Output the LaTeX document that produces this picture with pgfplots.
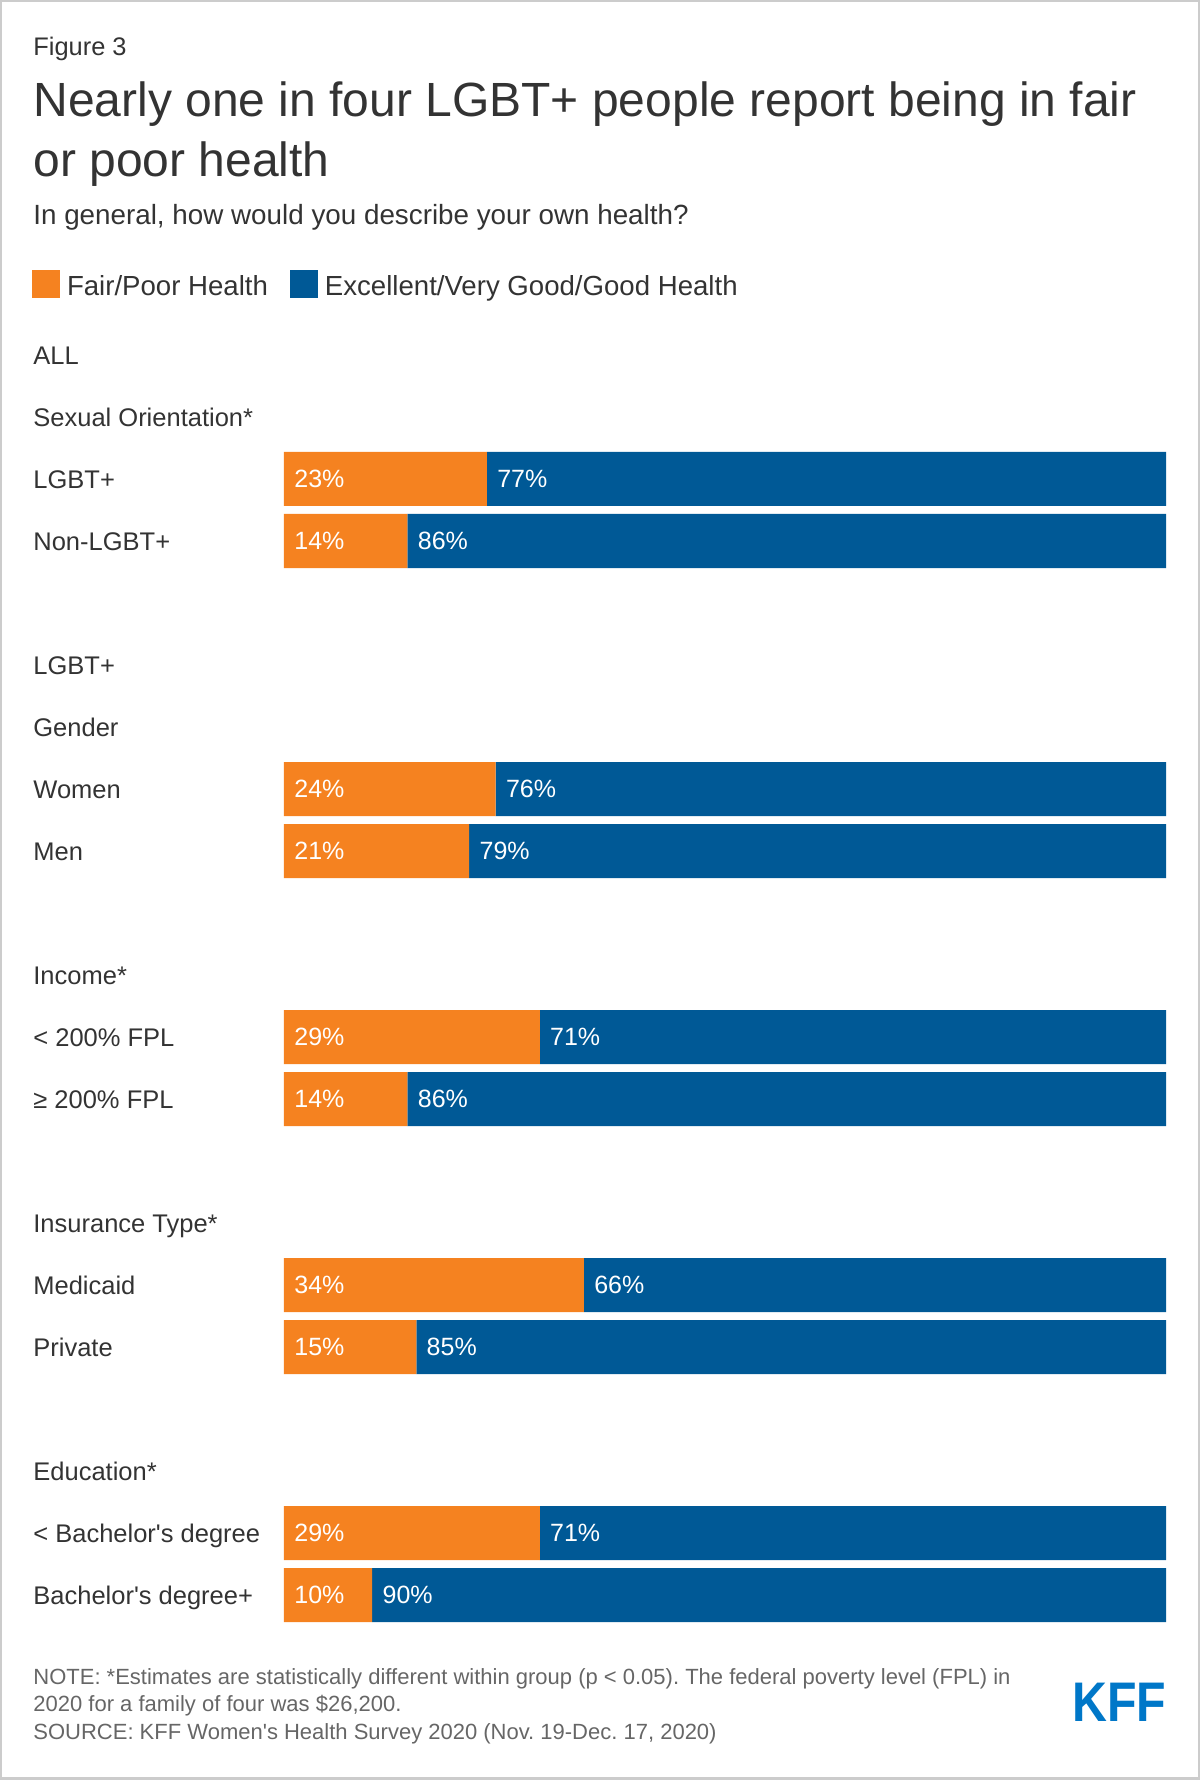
\documentclass[border=0pt]{standalone}
\usepackage{pgfplots}
\pgfplotsset{compat=1.18}
\usepackage{fontspec}
\setmainfont{Liberation Sans}
\definecolor{kfforange}{HTML}{F58220}
\definecolor{kffblue}{HTML}{005996}
\definecolor{kfflogo}{HTML}{0077C8}
\definecolor{txt}{HTML}{333333}
\definecolor{notec}{HTML}{666666}
\definecolor{framec}{HTML}{CCCCCC}
\newcommand\fs[2]{\fontsize{#1}{#2}\selectfont}
\frenchspacing
\begin{document}
\frenchspacing
\begin{tikzpicture}
\begin{axis}[
  at={(0pt,0pt)}, anchor=south west,
  scale only axis, width=441pt, height=890pt,
  xmin=0, xmax=100, ymin=0, ymax=1780, y dir=reverse,
  xbar stacked, bar width=27pt,
  axis line style={draw=none}, tick style={draw=none}, major tick length=0pt,
  xtick=\empty,
  ytick={355,417,479,541,665,727,789,851,975,1037,1099,1223,1285,1347,1471,1533,1595},
  yticklabels={ALL, Sexual Orientation*, LGBT+, Non-LGBT+, LGBT+, Gender, Women, Men, Income*, {< 200\% FPL}, {≥ 200\% FPL}, Insurance Type*, Medicaid, Private, Education*, {< Bachelor\textquotesingle s degree}, {Bachelor\textquotesingle s degree+}},
  yticklabel style={anchor=base west, inner sep=0pt, xshift=-125.5pt, yshift=-4.6pt, font=\fs{12.75}{15}, text=txt},
  clip=false,
  legend image code/.code={\fill[#1] (0pt,-1pt) rectangle (14pt,13pt);},
  legend style={at={(-0.28571,0.84831)}, anchor=north west, draw=none, fill=none, inner sep=0pt, outer sep=0pt, font=\fs{13.8}{16}, text=txt, legend columns=-1, cells={anchor=base west}, /tikz/every odd column/.append style={column sep=3.5pt}, /tikz/every even column/.append style={column sep=11pt}, nodes={inner sep=0pt}},
]
\addplot[fill=kfforange, draw=none] coordinates {(23,479) (14,541) (24,789) (21,851) (29,1037) (14,1099) (34,1285) (15,1347) (29,1533) (10,1595)};
\addlegendentry{Fair/Poor Health}
\addplot[fill=kffblue, draw=none] coordinates {(77,479) (86,541) (76,789) (79,851) (71,1037) (86,1099) (66,1285) (85,1347) (71,1533) (90,1595)};
\addlegendentry{Excellent/Very Good/Good Health}
\end{axis}
\begin{axis}[
  at={(0pt,0pt)}, anchor=south west,
  scale only axis, width=441pt, height=890pt,
  xmin=0, xmax=100, ymin=0, ymax=1780, y dir=reverse,
  hide axis, clip=false,
]
\addplot[draw=none, mark=none, nodes near coords, point meta=explicit symbolic,
  nodes near coords align={center},
  every node near coord/.style={anchor=west, font=\fs{12.5}{15}, text=white, inner sep=0pt, xshift=5pt}] coordinates {
(0,479) [23\%] (23,479) [77\%]
(0,541) [14\%] (14,541) [86\%]
(0,789) [24\%] (24,789) [76\%]
(0,851) [21\%] (21,851) [79\%]
(0,1037) [29\%] (29,1037) [71\%]
(0,1099) [14\%] (14,1099) [86\%]
(0,1285) [34\%] (34,1285) [66\%]
(0,1347) [15\%] (15,1347) [85\%]
(0,1533) [29\%] (29,1533) [71\%]
(0,1595) [10\%] (10,1595) [90\%]
};
\end{axis}
\pgfresetboundingbox
\begin{scope}[shift={(-142pt,890pt)}, x=0.5pt, y=-0.5pt]
\useasboundingbox (0,0) rectangle (1200,1780);
\draw[framec, line width=1.25pt] (1.25,1.25) rectangle (1198.75,1778.75);
\begin{scope}[every node/.style={anchor=base west, inner sep=0pt, text=txt}]
\node[font=\fs{12.7}{15}] at (33,56) {Figure 3};
\node[font=\fs{24}{30}] at (33,117) {Nearly one in four LGBT+ people report being in fair};
\node[font=\fs{24}{30}] at (33,177) {or poor health};
\node[font=\fs{13.9}{16}] at (33,225) {In general, how would you describe your own health?};
\node[font=\fs{11}{14}\frenchspacing, text=notec] at (33,1685) {NOTE: *Estimates are statistically different within group (p < 0.05). The federal poverty level (FPL) in};
\node[font=\fs{11}{14}\frenchspacing, text=notec] at (33,1712) {2020 for a family of four was \$26,200.};
\node[font=\fs{11}{14}\frenchspacing, text=notec] at (33,1740) {SOURCE: KFF Women\textquotesingle s Health Survey 2020 (Nov. 19-Dec. 17, 2020)};
\node[font=\bfseries\fs{27.9}{30}, text=kfflogo, xscale=0.866] at (1072,1722) {KFF};
\end{scope}
\end{scope}
\end{tikzpicture}
\end{document}
